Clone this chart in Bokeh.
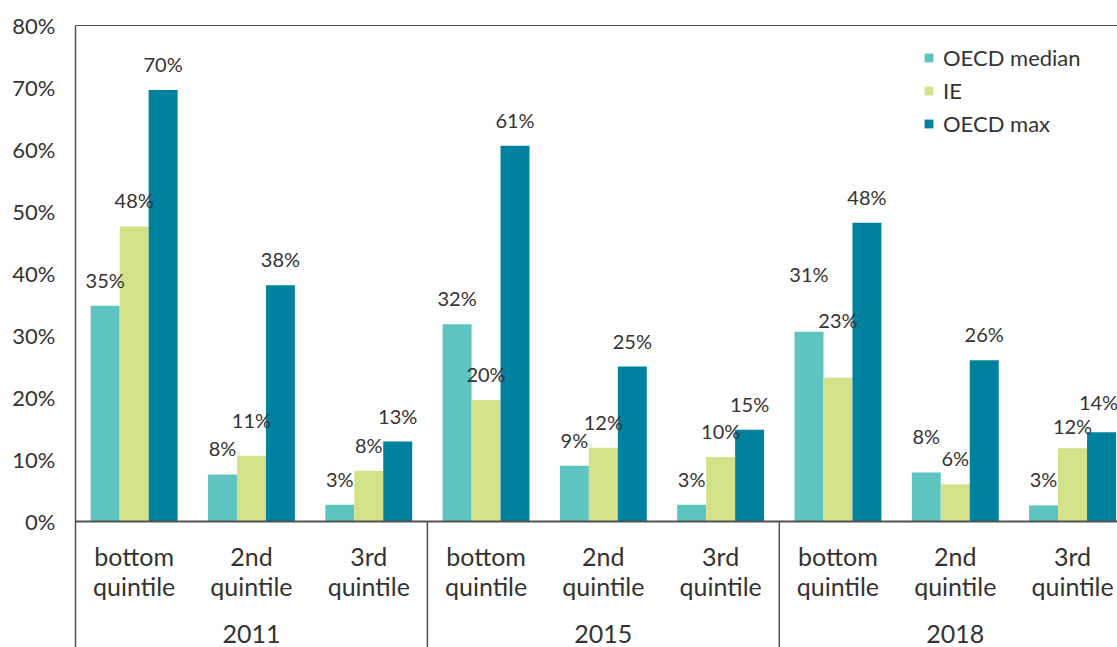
from itertools import product

from bokeh.core.properties import value
from bokeh.embed import file_html
from bokeh.models import (ColumnDataSource, FixedTicker, LabelSet, Legend,
                          LegendItem, LinearAxis, PrintfTickFormatter, Range1d,
                          Span)
from bokeh.plotting import figure
from bokeh.resources import INLINE
from bokeh.transform import dodge

# ---- data (shares in percent) ----
years = ["2011", "2015", "2018"]
quintiles = ["bottom quintile", "2nd quintile", "3rd quintile"]
series_names = ["OECD median", "IE", "OECD max"]

oecd_median = [34.8, 7.6, 2.7, 31.8, 9.0, 2.7, 30.6, 7.9, 2.6]
ie = [47.6, 10.6, 8.2, 19.6, 11.9, 10.4, 23.2, 6.0, 11.8]
oecd_max = [69.6, 38.1, 12.9, 60.6, 25.0, 14.8, 48.2, 26.0, 14.4]

y_ticks = [0, 10, 20, 30, 40, 50, 60, 70, 80]

# extra lift (px) for value labels that would otherwise collide
median_lift = [0, 0, 0, 0, 0, 0, 32, 11, 0]
ie_lift = [0, 10, 0, 0, 0, 0, 32, 0, -4]
max_lift = [0, 0, 0, 0, 0, 0, 0, 0, 4]
# small sideways nudge keeping the last label inside the canvas
max_nudge = [0, 0, 0, 0, 0, 0, 0, 0, -3]

colors = ["#5ec4c0", "#d4e189", "#00819e"]
TEXT = "#333333"
AXIS = "#505050"
FONT = value("Lato")

W, H = 1117, 647
LEFT, TOP = 75, 25
CAT_PX = 117.3          # horizontal size of one quintile slot
UNIT_PX = 6.2           # pixels per percentage point
AXIS_Y_PX = 521         # pixel row of the zero line

n_q = len(quintiles)
n = len(years) * n_q
centers = [i + 0.5 for i in range(n)]
group_centers = [g * n_q + n_q / 2 for g in range(len(years))]
separators = [g * n_q for g in range(1, len(years))]
cat_line1 = [q.split(" ")[0] for _, q in product(years, quintiles)]
cat_line2 = [q.split(" ")[1] for _, q in product(years, quintiles)]

y_start = -(H - AXIS_Y_PX) / UNIT_PX
x_end = (W - LEFT) / CAT_PX

bar_w = 0.247
offsets = [-bar_w, 0.0, bar_w]

p = figure(width=W, height=H, output_backend="svg", toolbar_location=None,
           x_range=Range1d(0, x_end), y_range=Range1d(y_start, 80),
           x_axis_location=None, y_axis_location=None,
           min_border_left=LEFT, min_border_right=0,
           min_border_top=TOP, min_border_bottom=0)
p.grid.visible = False
p.outline_line_color = None
p.background_fill_color = "white"
p.border_fill_color = "white"

# y axis (its line runs down through the category-label band)
yaxis = LinearAxis(ticker=FixedTicker(ticks=y_ticks),
                   formatter=PrintfTickFormatter(format="%d%%"))
yaxis.major_tick_in = 0
yaxis.major_tick_out = 0
yaxis.minor_tick_line_color = None
yaxis.axis_line_color = AXIS
yaxis.axis_line_width = 1.5
yaxis.major_label_standoff = 20
yaxis.major_label_text_font = "Lato"
yaxis.major_label_text_font_size = "22px"
yaxis.major_label_text_color = TEXT
p.add_layout(yaxis, "left")

# top frame line
top = LinearAxis(ticker=FixedTicker(ticks=[]))
top.major_tick_in = 0
top.major_tick_out = 0
top.minor_tick_line_color = None
top.axis_line_color = AXIS
top.axis_line_width = 1.2
top.major_label_standoff = 0
p.add_layout(top, "above")

# zero line and year separators
p.add_layout(Span(location=0, dimension="width", line_color=AXIS, line_width=2))
p.segment(x0=separators, y0=[0] * len(separators), x1=separators,
          y1=[y_start] * len(separators), line_color=AXIS, line_width=1.5)

legend_items = []
for name, vals, lift, nudge, off, col in zip(series_names,
                                             [oecd_median, ie, oecd_max],
                                             [median_lift, ie_lift, max_lift],
                                             [[0] * n, [0] * n, max_nudge],
                                             offsets, colors):
    src = ColumnDataSource(dict(
        x=centers,
        value=vals,
        label=[f"{v:.0f}%" for v in vals],
        yoff=[18 + l for l in lift],
        xoff=nudge,
    ))
    r = p.vbar(x=dodge("x", off, range=p.x_range), top="value", bottom=0,
               width=bar_w, source=src, fill_color=col, line_color=None)
    legend_items.append(LegendItem(label=name, renderers=[r]))
    p.add_layout(LabelSet(x=dodge("x", off, range=p.x_range), y="value",
                          text="label", x_offset="xoff", y_offset="yoff",
                          source=src, text_align="center",
                          text_baseline="alphabetic", text_font=FONT,
                          text_font_size="20px", text_color=TEXT))

# category labels (two lines) and year labels below the zero line
cat_src = ColumnDataSource(dict(x=centers, y=[0] * n, l1=cat_line1, l2=cat_line2))
for field, dy in (("l1", -34), ("l2", -64)):
    p.add_layout(LabelSet(x="x", y="y", text=field, source=cat_src, y_offset=dy,
                          text_align="center", text_baseline="middle",
                          text_font=FONT, text_font_size="25px",
                          text_color=TEXT))

year_src = ColumnDataSource(dict(x=group_centers, y=[0] * len(years), text=years))
p.add_layout(LabelSet(x="x", y="y", text="text", source=year_src,
                      y_offset=-112, text_align="center", text_baseline="middle",
                      text_font=FONT, text_font_size="25px", text_color=TEXT))

legend = Legend(items=legend_items, location=(848, 510))
legend.glyph_width = 11
legend.glyph_height = 11
legend.label_standoff = 9
legend.label_height = 24
legend.spacing = 6
legend.padding = 0
legend.margin = 0
legend.border_line_color = None
legend.background_fill_alpha = 0
legend.label_text_font = "Lato"
legend.label_text_font_size = "22px"
legend.label_text_color = TEXT
p.add_layout(legend)

open("out.html", "w").write(file_html(p, INLINE))
